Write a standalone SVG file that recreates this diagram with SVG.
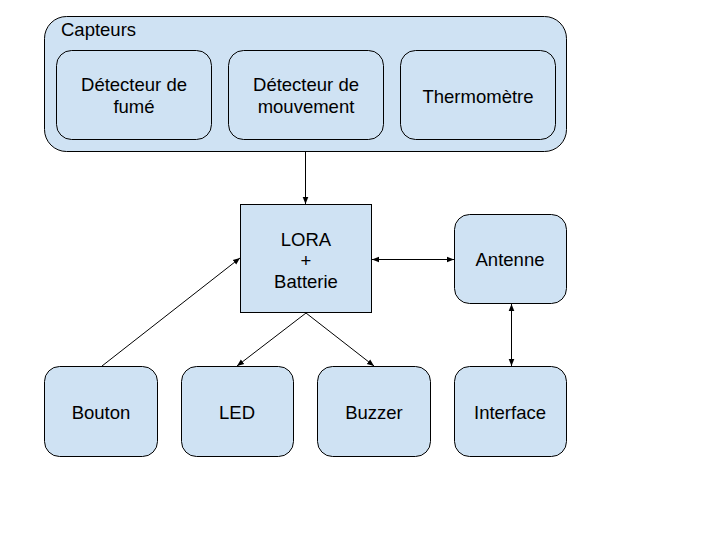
<svg xmlns="http://www.w3.org/2000/svg" width="720" height="540" viewBox="0 0 720 540">
<style>
.box{fill:#cfe2f3;stroke:#000;stroke-width:1}
.t{font-family:"Liberation Sans",Arial,sans-serif;font-size:18.5px;fill:#000;text-anchor:middle}
.c{stroke:#000;stroke-width:1;fill:none}
</style>
<defs>
<marker id="ah" viewBox="0 0 10 10" refX="10" refY="5" markerWidth="7" markerHeight="7" orient="auto-start-reverse" markerUnits="userSpaceOnUse">
<path d="M0,1 L10,5 L0,9 z" fill="#000"/>
</marker>
</defs>
<rect width="720" height="540" fill="#fff"/>
<g id="capteurs">
<rect class="box" x="44.5" y="16.5" width="522" height="135" rx="22"/>
<text class="t" x="61" y="35.5" style="text-anchor:start">Capteurs</text>
</g>
<g id="fume">
<rect class="box" x="56.5" y="50.5" width="155" height="89" rx="15"/>
<text class="t" x="134" y="91">Détecteur de</text>
<text class="t" x="134" y="113">fumé</text>
</g>
<g id="mouvement">
<rect class="box" x="228.5" y="50.5" width="155" height="89" rx="15"/>
<text class="t" x="306" y="91">Détecteur de</text>
<text class="t" x="306" y="113">mouvement</text>
</g>
<g id="thermometre">
<rect class="box" x="400.5" y="50.5" width="155" height="89" rx="15"/>
<text class="t" x="478" y="103">Thermomètre</text>
</g>
<g id="lora">
<rect class="box" x="240.5" y="204.5" width="131" height="108"/>
<text class="t" x="306" y="246">LORA</text>
<text class="t" x="306" y="267">+</text>
<text class="t" x="306" y="288">Batterie</text>
</g>
<g id="antenne">
<rect class="box" x="454.5" y="214.5" width="112" height="89" rx="15"/>
<text class="t" x="510" y="266">Antenne</text>
</g>
<g id="bouton">
<rect class="box" x="44.5" y="366.5" width="113" height="90" rx="15"/>
<text class="t" x="101" y="418.5">Bouton</text>
</g>
<g id="led">
<rect class="box" x="181.5" y="366.5" width="112" height="90" rx="15"/>
<text class="t" x="237" y="418.5">LED</text>
</g>
<g id="buzzer">
<rect class="box" x="317.5" y="366.5" width="113" height="90" rx="15"/>
<text class="t" x="374" y="418.5">Buzzer</text>
</g>
<g id="interface">
<rect class="box" x="454.5" y="366.5" width="112" height="90" rx="15"/>
<text class="t" x="510" y="418.5">Interface</text>
</g>
<g id="connectors">
<line class="c" x1="305.5" y1="152" x2="305.5" y2="204" marker-end="url(#ah)"/>
<line class="c" x1="102" y1="366" x2="240" y2="258" marker-end="url(#ah)"/>
<line class="c" x1="306" y1="313" x2="237" y2="366" marker-end="url(#ah)"/>
<line class="c" x1="306" y1="313" x2="374" y2="366" marker-end="url(#ah)"/>
<line class="c" x1="372" y1="259.5" x2="454" y2="259.5" marker-start="url(#ah)" marker-end="url(#ah)"/>
<line class="c" x1="511.5" y1="304" x2="511.5" y2="366" marker-start="url(#ah)" marker-end="url(#ah)"/>
</g>
</svg>
